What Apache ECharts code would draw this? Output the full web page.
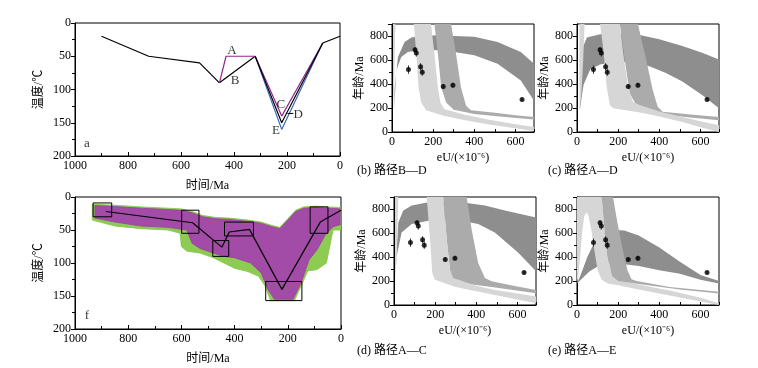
<!DOCTYPE html>
<html><head><meta charset="utf-8">
<script src="https://cdn.jsdelivr.net/npm/echarts@6/dist/echarts.min.js"></script>
<style>html,body{margin:0;padding:0;background:#fff}#c{width:758px;height:368px}</style>
</head><body><div id="c"></div>
<script>
// ================= DATA =================
// Panel a : thermal paths  [time Ma, temperature °C]
const pathStart = [[900,20],[722,50],[530,60],[455,90]];
const pathB = [[455,90],[320,50]];
const pathA = [[455,90],[430,50],[320,50]];
const pathC = [[320,50],[220,140],[65,30]];
const pathD = [[320,50],[220,150],[65,30]];
const pathE = [[320,50],[220,160],[65,30]];
const pathEnd = [[65,30],[0,20]];
const pathLabels = [
  {name:'A', value:[408,41]}, {name:'B', value:[396,87]}, {name:'C', value:[223,122]},
  {name:'D', value:[158,137]}, {name:'E', value:[242,162]}
];
const leaderD = [[198,136],[176,136]];

// Panel f : inverse model
const bestPath = [[884,22],[558,39],[448,76],[420,53],[344,49],[222,140],[78,38],[0,20]];
const constraintBoxes = [ // [tOld, tYoung, Tmin, Tmax]
  [932,862,9,30],[599,534,20,55],[482,422,66,90],[438,329,38,59],[283,147,128,157],[116,49,15,55]
];
const acceptableEnvelope = [
  [935,11],[870,12],[750,15],[600,18],[560,22],[520,28],[470,31],[420,32],[350,35],[300,38],[260,43],[230,46],[200,33],[170,20],[140,15],[100,14],[50,15],[0,16],
  [0,50],[30,50],[55,100],[90,110],[125,112],[150,135],[175,157],[265,157],[285,135],[310,120],[350,113],[400,108],[440,100],[480,92],[530,85],[580,82],[600,75],[605,55],[650,50],[750,48],[850,44],[935,35]
];
const goodEnvelope = [
  [925,13],[870,14],[750,17],[600,20],[560,24],[520,30],[470,33],[420,34],[350,37],[300,40],[260,45],[230,48],[200,35],[170,22],[140,17],[100,16],[50,17],[3,18],
  [3,42],[30,45],[60,58],[90,80],[120,95],[150,130],[180,155],[250,155],[275,140],[300,115],[340,100],[400,92],[440,90],[480,85],[530,78],[560,70],[580,50],[650,46],[750,44],[850,38],[925,32]
];

// Age-eU panels : measured grains [eU, age, 1σ]
const grains = [[80,520,35],[112,685,20],[118,658,30],[139,543,30],[147,498,30],[249,380,20],[296,390,20],[632,270,15]];

// Band outlines [eU, age]
const bDark = [[10,182],[13,373],[29,625],[61,751],[94,787],[142,801],[223,807],[303,801],[400,793],[513,751],[626,667],[690,569],
  [690,260],[626,429],[513,569],[400,639],[303,667],[223,681],[142,686],[77,667],[45,625],[21,513]];
const bMedium = [[206,900],[287,900],[311,653],[335,373],[360,218],[384,182],[500,160],[600,140],[690,126],
  [690,104],[550,125],[400,150],[300,185],[263,246],[239,373],[223,653]];
const bLight = [[106,900],[190,900],[206,653],[223,373],[235,246],[255,190],[350,145],[465,105],[580,70],[690,42],
  [690,8],[580,35],[465,65],[350,100],[250,135],[166,182],[142,246],[129,373],[118,653]];
const bSliver = [[5,900],[16,900],[13,600],[10,350],[8,185],[5,400]];

const cDark = [[13,183],[24,688],[48,787],[112,815],[192,823],[288,815],[400,772],[512,716],[608,660],[690,604],
  [690,197],[608,309],[512,421],[432,492],[352,548],[272,576],[192,590],[112,562],[64,520],[32,393],[16,211]];
const cMedium = [[208,900],[296,900],[336,604],[368,351],[392,211],[416,169],[550,145],[690,126],
  [690,98],[550,120],[400,150],[304,185],[288,225],[256,323],[232,604]];
const cLight = [[112,900],[208,900],[224,660],[248,379],[272,253],[304,225],[400,170],[512,126],[600,90],[690,56],
  [690,0],[600,40],[512,84],[400,130],[300,165],[176,197],[160,225],[144,379],[128,688]];
const cSliver = [[12,900],[37,900],[30,600],[22,330],[13,185],[11,500]];

const dDark = [[5,211],[21,688],[45,787],[86,829],[167,857],[248,862],[328,857],[442,829],[539,787],[690,730],
  [690,281],[604,435],[490,604],[409,674],[328,702],[248,711],[167,702],[86,674],[37,604],[13,407]];
const dMedium = [[239,900],[353,900],[377,632],[409,351],[442,225],[474,197],[580,160],[690,126],
  [690,98],[580,125],[474,150],[380,170],[280,183],[272,295],[256,548]];
const dLight = [[159,900],[239,900],[256,548],[272,295],[288,225],[400,160],[490,126],[600,95],[690,70],
  [690,14],[600,45],[490,84],[400,115],[300,150],[199,211],[186,267],[175,548]];
const dSliver = [[5,900],[21,900],[16,600],[10,350],[5,210]];

const eDark = [[0,180],[20,260],[50,400],[90,540],[130,600],[180,625],[230,620],[300,580],[400,480],[500,360],[600,250],[690,200],
  [690,180],[600,210],[500,260],[400,290],[300,325],[200,345],[150,345],[100,320],[60,280],[30,230]];
const eLight = [[0,900],[120,900],[135,600],[150,400],[170,240],[200,205],[300,170],[450,120],[600,60],[690,15],
  [690,0],[600,30],[450,80],[300,130],[200,165],[150,180],[120,210],[100,290],[85,450],[70,620],[55,750],[45,770],[35,740],[25,600],[15,400],[5,220],[0,180]];
const eMedium = [[120,900],[175,900],[195,700],[220,480],[245,290],[265,215],[290,200],[450,150],[600,125],[690,110],
  [690,95],[500,130],[300,175],[200,200],[170,240],[150,400],[135,600]];

const timeTickStep = 200, tempTickStep = 50, eUTickStep = 200, ageTickStep = 200;
const panelTitles = ['(b) 路径B—D','(c) 路径A—D','(d) 路径A—C','(e) 路径A—E'];

// ================= CHART =================
const SERIF = "'Liberation Serif','DejaVu Serif','Noto Sans CJK SC',serif";
const CJK = "'Liberation Serif','Noto Sans CJK SC',serif";
const chart = echarts.init(document.getElementById('c'), null, {renderer:'canvas'});

const grids = [
  {left:75, top:23, width:265, height:133},   // a
  {left:75, top:197, width:266, height:132},  // f
  {left:392, top:24, width:142, height:108},  // b
  {left:577, top:24, width:142, height:108},  // c
  {left:394, top:197, width:142, height:108}, // d
  {left:577, top:197, width:142, height:108}  // e
].map(g => Object.assign({show:true, borderColor:'#000', borderWidth:1, backgroundColor:'transparent'}, g));

const plainNum = v => String(v);
const axisCommon = {
  axisLine:{show:true, onZero:false, lineStyle:{color:'#000', width:1}},
  splitLine:{show:false},
  axisLabel:{color:'#000', fontFamily:SERIF, fontSize:12, margin:4, formatter:plainNum},
  nameTextStyle:{color:'#000', fontFamily:CJK, fontSize:12}
};
function xTime(i){ return Object.assign({}, axisCommon, {gridIndex:i, type:'value', min:0, max:1000, interval:timeTickStep, inverse:true,
  axisTick:{inside:true, length:4, lineStyle:{color:'#000'}}, minorTick:{show:true, splitNumber:2, length:3, lineStyle:{color:'#000'}},
  name:'时间/Ma', nameLocation:'middle', nameGap:24}); }
function yTemp(i){ return Object.assign({}, axisCommon, {gridIndex:i, type:'value', min:0, max:200, interval:tempTickStep, inverse:true,
  axisTick:{inside:false, length:4, lineStyle:{color:'#000'}}, minorTick:{show:true, splitNumber:2, length:3, lineStyle:{color:'#000'}},
  name:'温度/℃', nameLocation:'middle', nameGap:30, nameRotate:90}); }
function xEU(i){ return Object.assign({}, axisCommon, {gridIndex:i, type:'value', min:0, max:690, interval:eUTickStep,
  axisLabel:Object.assign({}, axisCommon.axisLabel, {showMaxLabel:false}),
  axisTick:{inside:true, length:3, lineStyle:{color:'#000'}}, minorTick:{show:true, splitNumber:2, length:3, lineStyle:{color:'#000'}},
  name:'eU/(×10⁻⁶)', nameLocation:'middle', nameGap:20}); }
function yAge(i){ return Object.assign({}, axisCommon, {gridIndex:i, type:'value', min:0, max:900, interval:ageTickStep,
  axisLabel:Object.assign({}, axisCommon.axisLabel, {showMaxLabel:false}),
  axisTick:{inside:false, length:4, lineStyle:{color:'#000'}}, minorTick:{show:true, splitNumber:2, length:3, lineStyle:{color:'#000'}},
  name:'年龄/Ma', nameLocation:'middle', nameGap:26, nameRotate:90}); }

const xAxes = [xTime(0), xTime(1), xEU(2), xEU(3), xEU(4), xEU(5)];
const yAxes = [yTemp(0), yTemp(1), yAge(2), yAge(3), yAge(4), yAge(5)];

function lineS(g, data, color, w){ return {type:'line', xAxisIndex:g, yAxisIndex:g, data:data, symbol:'none', silent:true,
  lineStyle:{color:color, width:w||1.2}, z:5, animation:false}; }
function polyS(g, pts, color, z, stroke){ return {type:'custom', xAxisIndex:g, yAxisIndex:g, coordinateSystem:'cartesian2d',
  data:[[pts[0][0], pts[0][1]]], silent:true, clip:true, z:z||2, animation:false,
  renderItem:(params, api)=>({type:'polygon', shape:{points: pts.map(p=>api.coord(p))},
    style:{fill:color, stroke: stroke||null, lineWidth: stroke?0.8:0}})}; }

const DARK='#8e8e8e', MED='#ababab', LIGHT='#d6d6d6';
const series = [];
// panel a
series.push(lineS(0, pathStart, '#000'));
series.push(lineS(0, pathB, '#000'));
series.push(lineS(0, pathA, '#93278f'));
series.push(lineS(0, pathE, '#3b6ab8'));
series.push(lineS(0, pathC, '#93278f'));
series.push(lineS(0, pathD, '#000'));
series.push(lineS(0, pathEnd, '#000'));
series.push(lineS(0, leaderD, '#000', 1));
series.push({type:'scatter', xAxisIndex:0, yAxisIndex:0, data:pathLabels, symbolSize:0, silent:true, z:6,
  label:{show:true, position:'inside', formatter:p=>p.name, color:'#000', fontFamily:SERIF, fontSize:13}});
series.push({type:'scatter', xAxisIndex:0, yAxisIndex:0, data:[{name:'a', value:[955,182]}], symbolSize:0, silent:true,
  label:{show:true, position:'inside', formatter:p=>p.name, color:'#000', fontFamily:SERIF, fontSize:13}});
// panel f
series.push(polyS(1, acceptableEnvelope, '#8dcb52', 2, '#7fc443'));
series.push(polyS(1, goodEnvelope, '#a24ca8', 3, '#9a3fa0'));
series.push(lineS(1, bestPath, '#000'));
series.push({type:'custom', xAxisIndex:1, yAxisIndex:1, coordinateSystem:'cartesian2d', data:constraintBoxes, silent:true, z:6,
  encode:{x:[0,1], y:[2,3]}, animation:false,
  renderItem:(params, api)=>{ const p1=api.coord([api.value(0), api.value(2)]), p2=api.coord([api.value(1), api.value(3)]);
    return {type:'rect', shape:{x:p1[0], y:p1[1], width:p2[0]-p1[0], height:p2[1]-p1[1]}, style:{fill:null, stroke:'#000', lineWidth:1}}; }});
series.push({type:'scatter', xAxisIndex:1, yAxisIndex:1, data:[{name:'f', value:[955,180]}], symbolSize:0, silent:true,
  label:{show:true, position:'inside', formatter:p=>p.name, color:'#000', fontFamily:SERIF, fontSize:13}});

// age-eU panels
const panelBands = [
  [bDark, bMedium, bLight, bSliver],
  [cDark, cMedium, cLight, cSliver],
  [dDark, dMedium, dLight, dSliver],
  [eDark, eLight, eMedium, null]
];
panelBands.forEach((bands, k) => {
  const g = k + 2;
  if (k < 3) {
    series.push(polyS(g, bands[0], DARK, 2));
    series.push(polyS(g, bands[1], MED, 3));
    series.push(polyS(g, bands[2], LIGHT, 4));
    series.push(polyS(g, bands[3], LIGHT, 4));
  } else {
    series.push(polyS(g, bands[0], DARK, 2));
    series.push(polyS(g, bands[1], LIGHT, 3));
    series.push(polyS(g, bands[2], MED, 4));
  }
  series.push({type:'custom', xAxisIndex:g, yAxisIndex:g, coordinateSystem:'cartesian2d', data:grains, silent:true, z:7,
    encode:{x:0, y:1}, animation:false,
    renderItem:(params, api)=>{ const a=api.coord([api.value(0), api.value(1)-api.value(2)]), b=api.coord([api.value(0), api.value(1)+api.value(2)]);
      return {type:'line', shape:{x1:a[0], y1:a[1], x2:b[0], y2:b[1]}, style:{stroke:'#333', lineWidth:1}}; }});
  series.push({type:'scatter', xAxisIndex:g, yAxisIndex:g, data:grains.map(d=>[d[0], d[1]]), symbol:'circle', symbolSize:5,
    itemStyle:{color:'#000'}, silent:true, z:8, animation:false});
});

const titlePos = [[357,173],[548,173],[357,353],[548,353]];
const graphic = panelTitles.map((t,i)=>({type:'text', left:titlePos[i][0], top:titlePos[i][1]-8,
  style:{text:t, fill:'#000', font:"12px 'Liberation Serif','Noto Sans CJK SC',serif"}}));

chart.setOption({animation:false, backgroundColor:'#fff', grid:grids, xAxis:xAxes, yAxis:yAxes, series:series, graphic:graphic});
</script></body></html>
